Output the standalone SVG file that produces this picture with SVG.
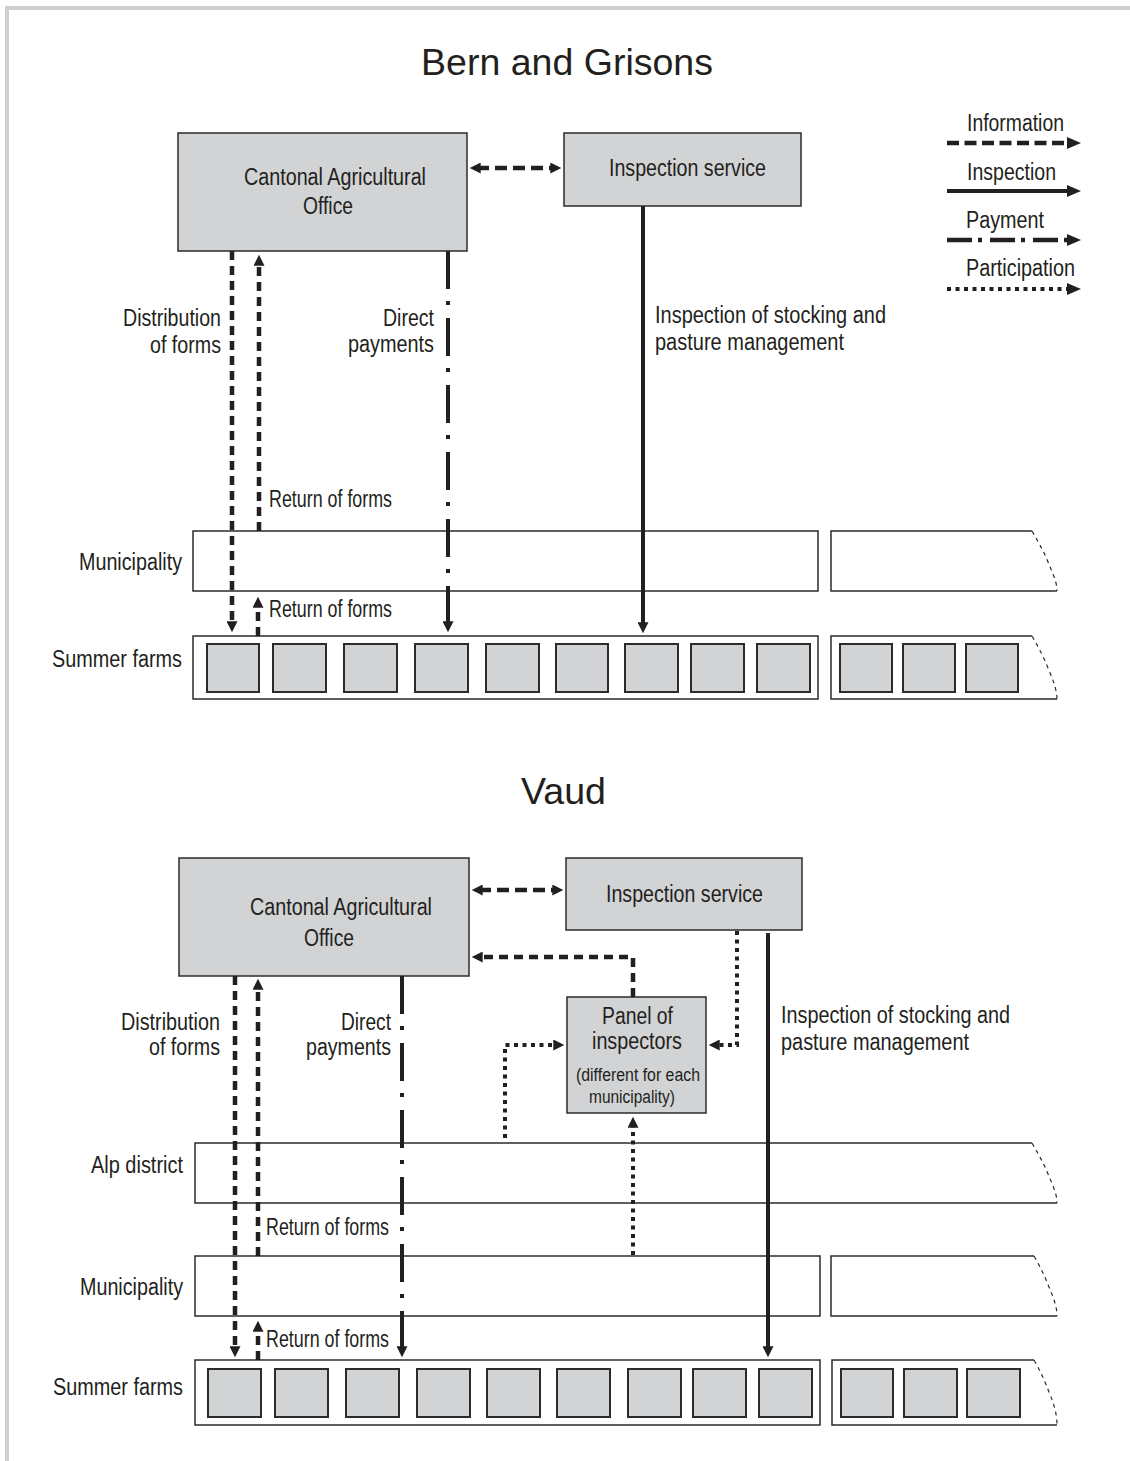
<svg xmlns="http://www.w3.org/2000/svg" width="1130" height="1461" viewBox="0 0 1130 1461">
<style>
.bg{fill:#ffffff}
.frame{fill:none;stroke:#d0d0d0;stroke-width:4}
.box{fill:#d1d3d4;stroke:#2b2b2b;stroke-width:1.5}
.farm{fill:#d1d3d4;stroke:#2b2b2b;stroke-width:2}
.band{fill:#ffffff;stroke:#2b2b2b;stroke-width:1.5}
.bandopen{fill:none;stroke:#2b2b2b;stroke-width:1.5}
.torn{fill:none;stroke:#2b2b2b;stroke-width:1.2;stroke-dasharray:4 4}
text{font-family:"Liberation Sans",Arial,sans-serif;fill:#231f20}
.t{font-size:23px}
.s{font-size:18px}
.title{font-size:37px}
.info{fill:none;stroke:#231f20;stroke-width:4.5;stroke-dasharray:9 6}
.insp{fill:none;stroke:#231f20;stroke-width:4}
.pay{fill:none;stroke:#231f20;stroke-width:4;stroke-dasharray:38 12 4 13}
.part{fill:none;stroke:#231f20;stroke-width:4;stroke-dasharray:4 4.5}
.ah{marker-end:url(#ah)}
</style>
<defs>
<marker id="ah" viewBox="0 0 12 12" refX="4" refY="6" markerWidth="12" markerHeight="11" markerUnits="userSpaceOnUse" orient="auto-start-reverse">
<path d="M0,0 L12,6 L0,12 z" fill="#231f20"/>
</marker>
<marker id="ahL" viewBox="0 0 14 12" refX="4" refY="6" markerWidth="14" markerHeight="12" markerUnits="userSpaceOnUse" orient="auto">
<path d="M0,0 L14,6 L0,12 z" fill="#231f20"/>
</marker>
</defs>
<rect class="bg" x="0" y="0" width="1130" height="1461"/>
<path class="frame" d="M7,1461 L7,8 L1130,8"/>

<!-- Titles -->
<text class="title" x="421" y="75" textLength="292" lengthAdjust="spacingAndGlyphs">Bern and Grisons</text>
<text class="title" x="521" y="804" textLength="85" lengthAdjust="spacingAndGlyphs">Vaud</text>

<!-- Legend -->
<g id="legend">
<text class="t" x="967" y="131" textLength="97" lengthAdjust="spacingAndGlyphs">Information</text>
<line x1="947" y1="143" x2="1071" y2="143" style="fill:none;stroke:#231f20;stroke-width:4.5;stroke-dasharray:12 5.5" marker-end="url(#ahL)"/>
<text class="t" x="967" y="180" textLength="89" lengthAdjust="spacingAndGlyphs">Inspection</text>
<line x1="947" y1="191" x2="1071" y2="191" class="insp" marker-end="url(#ahL)"/>
<text class="t" x="966" y="228" textLength="78" lengthAdjust="spacingAndGlyphs">Payment</text>
<line x1="947" y1="240" x2="1071" y2="240" style="fill:none;stroke:#231f20;stroke-width:4.5;stroke-dasharray:25 6 4 8" marker-end="url(#ahL)"/>
<text class="t" x="966" y="276" textLength="109" lengthAdjust="spacingAndGlyphs">Participation</text>
<line x1="947" y1="289" x2="1071" y2="289" style="fill:none;stroke:#231f20;stroke-width:4;stroke-dasharray:4 4.5" marker-end="url(#ahL)"/>
</g>

<!-- ===== Bern and Grisons ===== -->
<g id="bg-cao">
<rect class="box" x="178" y="133" width="289" height="118"/>
<text class="t" x="244" y="185" textLength="182" lengthAdjust="spacingAndGlyphs">Cantonal Agricultural</text>
<text class="t" x="303" y="214" textLength="50" lengthAdjust="spacingAndGlyphs">Office</text>
</g>
<g id="bg-insp">
<rect class="box" x="564" y="133" width="237" height="73"/>
<text class="t" x="609" y="176" textLength="157" lengthAdjust="spacingAndGlyphs">Inspection service</text>
</g>
<g id="bg-municipality">
<text class="t" x="79" y="570" textLength="103" lengthAdjust="spacingAndGlyphs">Municipality</text>
<rect class="band" x="193" y="531" width="625" height="60"/>
<path class="bandopen" d="M1032,531 L831,531 L831,591 L1057,591"/>
<path class="torn" d="M1032,531 C1040,545 1044,552 1048,562 C1053,574 1057,582 1057,591"/>
</g>
<g id="bg-farms">
<text class="t" x="52" y="667" textLength="130" lengthAdjust="spacingAndGlyphs">Summer farms</text>
<rect class="band" x="193" y="636" width="625" height="63"/>
<path class="bandopen" d="M1032,636 L831,636 L831,699 L1057,699"/>
<path class="torn" d="M1032,636 C1040,650 1044,658 1048,668 C1053,680 1057,690 1057,699"/>
<rect class="farm" x="207" y="644" width="52" height="48"/>
<rect class="farm" x="273" y="644" width="53" height="48"/>
<rect class="farm" x="344" y="644" width="53" height="48"/>
<rect class="farm" x="415" y="644" width="53" height="48"/>
<rect class="farm" x="486" y="644" width="53" height="48"/>
<rect class="farm" x="556" y="644" width="52" height="48"/>
<rect class="farm" x="625" y="644" width="53" height="48"/>
<rect class="farm" x="691" y="644" width="53" height="48"/>
<rect class="farm" x="757" y="644" width="53" height="48"/>
<rect class="farm" x="840" y="644" width="52" height="48"/>
<rect class="farm" x="903" y="644" width="52" height="48"/>
<rect class="farm" x="966" y="644" width="52" height="48"/>
</g>

<!-- ===== Vaud ===== -->
<g id="v-cao">
<rect class="box" x="179" y="858" width="290" height="118"/>
<text class="t" x="250" y="915" textLength="182" lengthAdjust="spacingAndGlyphs">Cantonal Agricultural</text>
<text class="t" x="304" y="946" textLength="50" lengthAdjust="spacingAndGlyphs">Office</text>
</g>
<g id="v-insp">
<rect class="box" x="566" y="858" width="236" height="72"/>
<text class="t" x="606" y="902" textLength="157" lengthAdjust="spacingAndGlyphs">Inspection service</text>
</g>
<g id="v-panel">
<rect class="box" x="567" y="997" width="139" height="116"/>
<text class="t" x="602" y="1024" textLength="71" lengthAdjust="spacingAndGlyphs">Panel of</text>
<text class="t" x="592" y="1049" textLength="90" lengthAdjust="spacingAndGlyphs">inspectors</text>
<text class="s" x="576" y="1081" textLength="124" lengthAdjust="spacingAndGlyphs">(different for each</text>
<text class="s" x="589" y="1103" textLength="86" lengthAdjust="spacingAndGlyphs">municipality)</text>
</g>
<g id="v-alp">
<text class="t" x="91" y="1173" textLength="92" lengthAdjust="spacingAndGlyphs">Alp district</text>
<path class="bandopen" d="M1032,1143 L195,1143 L195,1203 L1057,1203"/>
<path class="torn" d="M1032,1143 C1040,1157 1044,1164 1048,1174 C1053,1186 1057,1194 1057,1203"/>
</g>
<g id="v-municipality">
<text class="t" x="80" y="1295" textLength="103" lengthAdjust="spacingAndGlyphs">Municipality</text>
<rect class="band" x="195" y="1256" width="625" height="60"/>
<path class="bandopen" d="M1034,1256 L831,1256 L831,1316 L1057,1316"/>
<path class="torn" d="M1034,1256 C1042,1270 1045,1277 1049,1287 C1054,1299 1057,1307 1057,1316"/>
</g>
<g id="v-farms">
<text class="t" x="53" y="1395" textLength="130" lengthAdjust="spacingAndGlyphs">Summer farms</text>
<rect class="band" x="195" y="1360" width="625" height="65"/>
<path class="bandopen" d="M1034,1360 L832,1360 L832,1425 L1057,1425"/>
<path class="torn" d="M1034,1360 C1042,1374 1045,1382 1049,1392 C1054,1404 1057,1414 1057,1425"/>
<rect class="farm" x="208" y="1369" width="53" height="48"/>
<rect class="farm" x="275" y="1369" width="53" height="48"/>
<rect class="farm" x="346" y="1369" width="53" height="48"/>
<rect class="farm" x="417" y="1369" width="53" height="48"/>
<rect class="farm" x="487" y="1369" width="53" height="48"/>
<rect class="farm" x="557" y="1369" width="53" height="48"/>
<rect class="farm" x="628" y="1369" width="53" height="48"/>
<rect class="farm" x="693" y="1369" width="53" height="48"/>
<rect class="farm" x="759" y="1369" width="53" height="48"/>
<rect class="farm" x="841" y="1369" width="52" height="48"/>
<rect class="farm" x="904" y="1369" width="53" height="48"/>
<rect class="farm" x="967" y="1369" width="53" height="48"/>
</g>

<!-- Connector labels -->
<g id="labels">
<text class="t" x="123" y="326" textLength="98" lengthAdjust="spacingAndGlyphs">Distribution</text>
<text class="t" x="150" y="353" textLength="71" lengthAdjust="spacingAndGlyphs">of forms</text>
<text class="t" x="383" y="326" textLength="51" lengthAdjust="spacingAndGlyphs">Direct</text>
<text class="t" x="348" y="352" textLength="86" lengthAdjust="spacingAndGlyphs">payments</text>
<text class="t" x="655" y="323" textLength="231" lengthAdjust="spacingAndGlyphs">Inspection of stocking and</text>
<text class="t" x="655" y="350" textLength="189" lengthAdjust="spacingAndGlyphs">pasture management</text>
<text class="t" x="269" y="507" textLength="123" lengthAdjust="spacingAndGlyphs">Return of forms</text>
<text class="t" x="269" y="617" textLength="123" lengthAdjust="spacingAndGlyphs">Return of forms</text>

<text class="t" x="121" y="1030" textLength="99" lengthAdjust="spacingAndGlyphs">Distribution</text>
<text class="t" x="149" y="1055" textLength="71" lengthAdjust="spacingAndGlyphs">of forms</text>
<text class="t" x="341" y="1030" textLength="50" lengthAdjust="spacingAndGlyphs">Direct</text>
<text class="t" x="306" y="1055" textLength="85" lengthAdjust="spacingAndGlyphs">payments</text>
<text class="t" x="781" y="1023" textLength="229" lengthAdjust="spacingAndGlyphs">Inspection of stocking and</text>
<text class="t" x="781" y="1050" textLength="188" lengthAdjust="spacingAndGlyphs">pasture management</text>
<text class="t" x="266" y="1235" textLength="123" lengthAdjust="spacingAndGlyphs">Return of forms</text>
<text class="t" x="266" y="1347" textLength="123" lengthAdjust="spacingAndGlyphs">Return of forms</text>
</g>

<!-- Connectors -->
<g id="connectors">
<!-- Bern and Grisons -->
<line class="info" x1="477" y1="168" x2="554" y2="168" style="stroke-dasharray:12 6" marker-start="url(#ah)" marker-end="url(#ah)"/>
<line class="info ah" x1="232" y1="251" x2="232" y2="625"/>
<line class="info ah" x1="259" y1="531" x2="259" y2="262"/>
<line class="info ah" x1="258" y1="636" x2="258" y2="604"/>
<line class="pay ah" x1="448" y1="251" x2="448" y2="625"/>
<line class="insp ah" x1="643" y1="206" x2="643" y2="626"/>
<!-- Vaud -->
<line class="info" x1="479" y1="890" x2="556" y2="890" style="stroke-dasharray:12 6" marker-start="url(#ah)" marker-end="url(#ah)"/>
<polyline class="info ah" points="633,997 633,957 479,957"/>
<polyline class="part ah" points="737,931 737,1045 716,1045"/>
<polyline class="part ah" points="505,1138 505,1045 557,1045"/>
<line class="part ah" x1="633" y1="1255" x2="633" y2="1124"/>
<line class="insp ah" x1="768" y1="933" x2="768" y2="1350"/>
<line class="info ah" x1="235" y1="976" x2="235" y2="1350"/>
<line class="info ah" x1="258" y1="1256" x2="258" y2="986"/>
<line class="info ah" x1="258" y1="1360" x2="258" y2="1328"/>
<line class="pay ah" x1="402" y1="976" x2="402" y2="1350"/>
</g>
</svg>
